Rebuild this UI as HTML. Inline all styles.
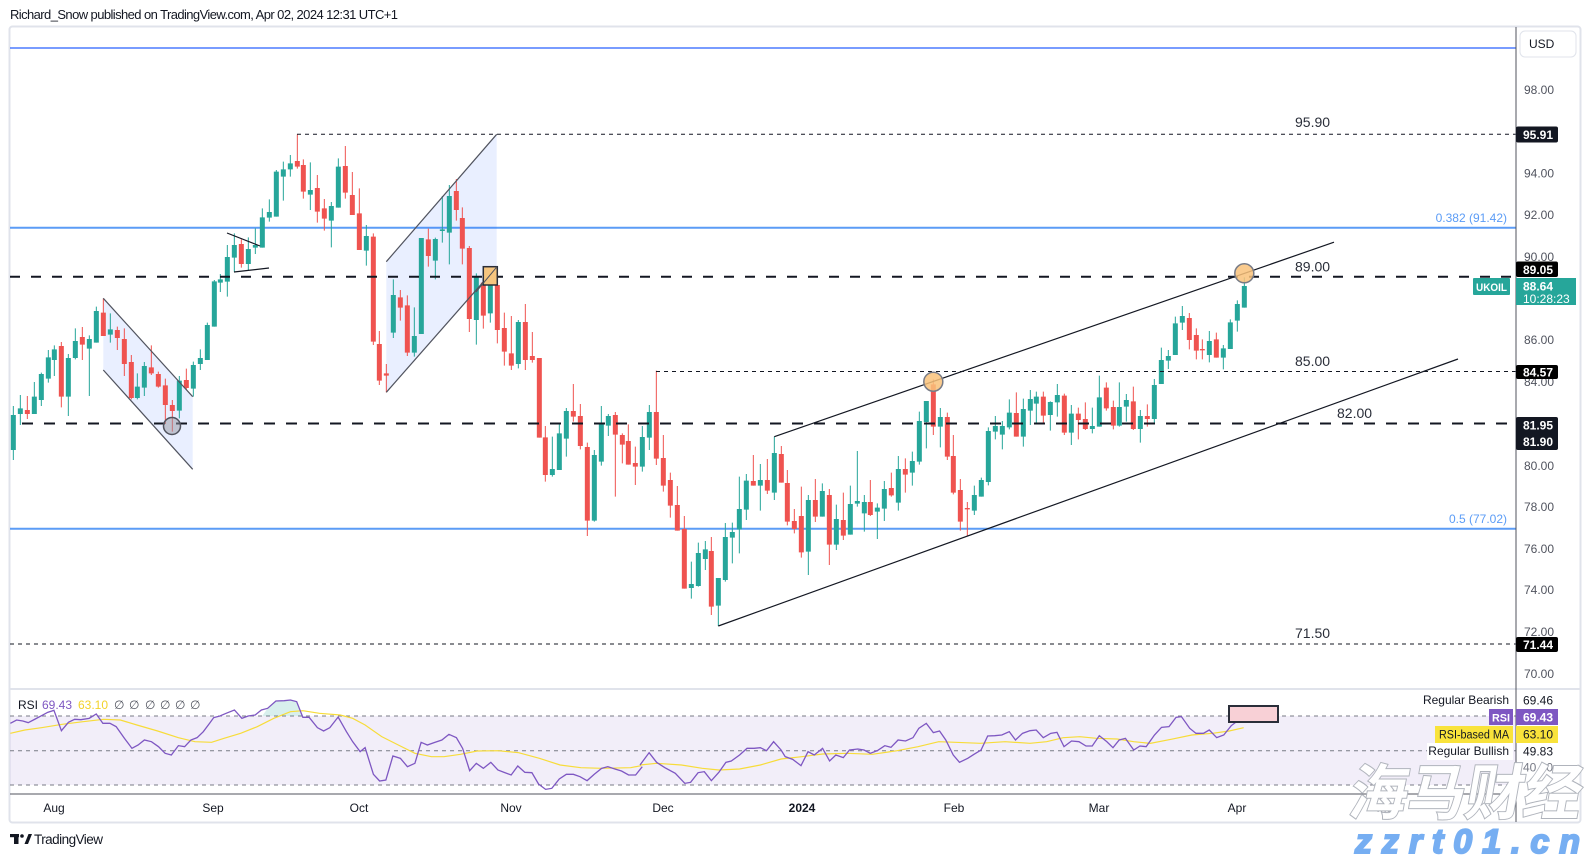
<!DOCTYPE html>
<html><head><meta charset="utf-8"><style>
html,body{margin:0;padding:0;background:#fff;}
svg{display:block;font-family:"Liberation Sans","Noto Sans CJK SC",sans-serif;}
</style></head><body>
<svg width="1590" height="857" viewBox="0 0 1590 857" xmlns="http://www.w3.org/2000/svg">
<rect width="1590" height="857" fill="#fff"/>
<text x="10" y="19" font-size="13" fill="#131722" textLength="388">Richard_Snow published on TradingView.com, Apr 02, 2024 12:31 UTC+1</text>
<rect x="9.5" y="26.5" width="1571" height="796" fill="#fff" stroke="#e0e3eb" stroke-width="2" rx="3"/>

<!-- RSI background -->
<rect x="10" y="716" width="1506" height="69" fill="#7e57c2" fill-opacity="0.1"/>

<!-- fib lines -->
<line x1="10" y1="48" x2="1516" y2="48" stroke="#2962ff" stroke-width="1.2"/>
<line x1="10" y1="227.7" x2="1516" y2="227.7" stroke="#5b9cf6" stroke-width="2"/>
<line x1="10" y1="528.7" x2="1516" y2="528.7" stroke="#5b9cf6" stroke-width="2"/>
<text x="1507" y="222" font-size="12" fill="#5b9cf6" text-anchor="end">0.382 (91.42)</text>
<text x="1507" y="523" font-size="12" fill="#5b9cf6" text-anchor="end">0.5 (77.02)</text>

<!-- channel fills -->
<polygon points="103.3,298.3 192.7,396.7 192.7,469.3 103.3,370" fill="#2962ff" fill-opacity="0.1"/>
<polygon points="386.3,261.7 496.7,134.3 496.7,266.7 386.3,392.3" fill="#2962ff" fill-opacity="0.1"/>

<!-- candles -->
<g transform="translate(0,120) scale(0.333333)">
<path d="M40 858V1020M61 825V915M103 786V882M124 758V858M145 690V788M163 676V768M205 702V888M226 625V718M268 646V828M289 560V668M331 580V668M412 760V838M433 726V828M538 768V895M580 725V830M601 688V750M622 608V720M643 480V620M661 462V516M682 375V530M703 340V455M745 352V450M766 325V402M787 265V383M808 238V305M829 150V290M850 125V242M871 105V170M931 127V270M994 246V382" stroke="#26a69a" stroke-width="3" fill="none"/>
<path d="M32.5 885h15V990h-15zM53.5 865h15V882h-15zM95.5 830h15V882h-15zM116.5 762h15V840h-15zM137.5 712h15V776h-15zM155.5 688h15V720h-15zM197.5 714h15V830h-15zM218.5 663h15V714h-15zM260.5 657h15V686h-15zM281.5 573h15V668h-15zM323.5 628h15V644h-15zM404.5 800h15V834h-15zM425.5 738h15V803h-15zM530.5 782h15V872h-15zM572.5 735h15V806h-15zM593.5 714h15V732h-15zM614.5 615h15V720h-15zM635.5 484h15V620h-15zM653.5 478h15V488h-15zM674.5 411h15V485h-15zM695.5 375h15V413h-15zM737.5 387h15V432h-15zM758.5 375h15V383h-15zM779.5 292h15V383h-15zM800.5 276h15V293h-15zM821.5 155h15V290h-15zM842.5 148h15V170h-15zM863.5 130h15V148h-15zM923.5 210h15V224h-15zM986.5 258h15V302h-15z" fill="#26a69a"/>
<path d="M82 828V897M184 666V862M247 621V720M310 535V648M352 620V690M373 625V768M394 705V838M454 676V765M475 755V803M496 776V912M517 840V935M559 746V810M724 358V443M892 43V146M910 118V236M952 165V308M973 237V332" stroke="#ef5350" stroke-width="3" fill="none"/>
<path d="M74.5 870h15V882h-15zM176.5 678h15V830h-15zM239.5 651h15V674h-15zM302.5 578h15V648h-15zM344.5 630h15V654h-15zM365.5 657h15V732h-15zM386.5 726h15V834h-15zM446.5 742h15V760h-15zM467.5 762h15V800h-15zM488.5 796h15V855h-15zM509.5 855h15V873h-15zM551.5 780h15V804h-15zM716.5 372h15V432h-15zM884.5 123h15V140h-15zM902.5 135h15V215h-15zM944.5 204h15V275h-15zM965.5 265h15V296h-15z" fill="#ef5350"/>
</g>
<g transform="translate(330,120) scale(0.333333)">
<path d="M25 115V263M109 315V437M190 478V654M253 562V710M274 354V642M316 353V478M337 228V368M358 195V433M439 460V674M481 450V608M565 600V745M667 950V1070M688 912V1050M709 864V1010M793 990V1205M814 858V1037M835 882V948M937 918V1055M958 855V990" stroke="#26a69a" stroke-width="3" fill="none"/>
<path d="M17.5 140h15V263h-15zM101.5 348h15V392h-15zM182.5 525h15V638h-15zM245.5 648h15V698h-15zM266.5 354h15V642h-15zM308.5 357h15V422h-15zM329.5 328h15V333h-15zM350.5 228h15V338h-15zM431.5 472h15V600h-15zM473.5 490h15V580h-15zM557.5 606h15V732h-15zM659.5 1047h15V1065h-15zM680.5 940h15V1050h-15zM701.5 873h15V956h-15zM785.5 1005h15V1202h-15zM806.5 912h15V1025h-15zM827.5 888h15V917h-15zM929.5 951h15V1040h-15zM950.5 876h15V953h-15z" fill="#26a69a"/>
<path d="M46 78V236M67 156V285M88 205V390M130 340V675M148 633V795M169 732V817M211 510V602M232 526V708M295 326V440M379 177V302M397 262V433M418 378V636M460 458V626M502 495V670M523 578V737M544 588V750M586 552V750M607 636V728M628 714V953M646 918V1085M730 792V905M751 852V988M772 968V1248M856 876V1130M877 940V1030M895 913V1034M916 980V1095M979 752V1035" stroke="#ef5350" stroke-width="3" fill="none"/>
<path d="M38.5 138h15V218h-15zM59.5 225h15V285h-15zM80.5 280h15V390h-15zM122.5 350h15V665h-15zM140.5 672h15V782h-15zM161.5 760h15V767h-15zM203.5 532h15V563h-15zM224.5 556h15V698h-15zM287.5 358h15V408h-15zM371.5 213h15V270h-15zM389.5 294h15V386h-15zM410.5 384h15V597h-15zM452.5 488h15V587h-15zM494.5 495h15V630h-15zM515.5 624h15V695h-15zM536.5 700h15V737h-15zM578.5 606h15V720h-15zM599.5 708h15V720h-15zM620.5 714h15V953h-15zM638.5 952h15V1065h-15zM722.5 873h15V890h-15zM743.5 888h15V978h-15zM764.5 981h15V1202h-15zM848.5 885h15V944h-15zM869.5 945h15V974h-15zM887.5 963h15V1034h-15zM908.5 1029h15V1040h-15zM971.5 876h15V1016h-15z" fill="#ef5350"/>
</g>
<g transform="translate(660,340) scale(0.333333)">
<path d="M94 665V776M115 608V740M136 603V690M175 714V858M196 549V725M217 548V670M238 410V640M259 402V540M301 372V512M343 290V480M445 465V705M487 430V530M529 494V630M571 437V584M592 333V500M613 465V575M652 490V597M673 423V543M715 348V512M757 335V437M778 215V374M799 183V325M841 204V322M943 437V525M964 413V470M985 262V436" stroke="#26a69a" stroke-width="3" fill="none"/>
<path d="M86.5 732h15V744h-15zM107.5 639h15V738h-15zM128.5 628h15V657h-15zM167.5 714h15V797h-15zM188.5 591h15V720h-15zM209.5 576h15V593h-15zM230.5 507h15V568h-15zM251.5 422h15V509h-15zM293.5 420h15V437h-15zM335.5 339h15V458h-15zM437.5 480h15V635h-15zM479.5 453h15V530h-15zM521.5 537h15V614h-15zM563.5 492h15V584h-15zM584.5 483h15V491h-15zM605.5 486h15V520h-15zM644.5 503h15V515h-15zM665.5 447h15V506h-15zM707.5 387h15V488h-15zM749.5 363h15V398h-15zM770.5 243h15V365h-15zM791.5 183h15V246h-15zM833.5 231h15V260h-15zM935.5 465h15V512h-15zM956.5 420h15V470h-15zM977.5 273h15V426h-15z" fill="#26a69a"/>
<path d="M10 285V455M31 398V533M52 438V572M73 528V746M154 591V825M280 345V437M322 357V462M364 318V428M382 390V556M403 507V580M424 440V653M466 417V546M508 447V675M550 458V600M631 420V528M694 398V470M736 355V458M820 118V285M862 218V360M880 285V463M901 417V572M922 486V588" stroke="#ef5350" stroke-width="3" fill="none"/>
<path d="M2.5 354h15V437h-15zM23.5 420h15V497h-15zM44.5 495h15V572h-15zM65.5 567h15V746h-15zM146.5 633h15V800h-15zM272.5 423h15V437h-15zM314.5 420h15V452h-15zM356.5 342h15V428h-15zM374.5 429h15V545h-15zM395.5 543h15V567h-15zM416.5 528h15V637h-15zM458.5 480h15V530h-15zM500.5 465h15V614h-15zM542.5 540h15V587h-15zM623.5 486h15V525h-15zM686.5 444h15V466h-15zM728.5 387h15V404h-15zM812.5 133h15V260h-15zM854.5 231h15V350h-15zM872.5 348h15V458h-15zM893.5 450h15V545h-15zM914.5 504h15V508h-15z" fill="#ef5350"/>
</g>
<g transform="translate(990,230) scale(0.333333)">
<path d="M16 558V628M37 573V658M58 508V598M100 506V650M121 480V585M139 485V578M181 514V602M202 462V560M244 525V645M307 533V610M328 437V590M388 457V590M409 492V575M451 540V638M493 447V580M514 353V462M535 360V417M556 260V375M577 228V300M658 303V397M700 345V418M721 268V357M742 211V305M763 142V233" stroke="#26a69a" stroke-width="3" fill="none"/>
<path d="M8.5 588h15V605h-15zM29.5 588h15V614h-15zM50.5 548h15V592h-15zM92.5 537h15V620h-15zM113.5 507h15V542h-15zM131.5 500h15V521h-15zM173.5 516h15V555h-15zM194.5 495h15V517h-15zM236.5 551h15V608h-15zM299.5 588h15V597h-15zM320.5 502h15V590h-15zM380.5 531h15V587h-15zM401.5 510h15V530h-15zM443.5 558h15V597h-15zM485.5 465h15V567h-15zM506.5 390h15V462h-15zM527.5 378h15V392h-15zM548.5 280h15V375h-15zM569.5 258h15V278h-15zM650.5 333h15V375h-15zM692.5 355h15V383h-15zM713.5 277h15V357h-15zM734.5 222h15V272h-15zM755.5 168h15V233h-15z" fill="#26a69a"/>
<path d="M79 487V620M160 485V580M223 491V615M265 533V628M286 517V600M349 457V542M370 512V598M430 470V600M472 523V590M598 249V358M619 295V388M637 328V388M679 308V383" stroke="#ef5350" stroke-width="3" fill="none"/>
<path d="M71.5 549h15V620h-15zM152.5 500h15V557h-15zM215.5 497h15V608h-15zM257.5 551h15V570h-15zM278.5 567h15V597h-15zM341.5 473h15V535h-15zM362.5 531h15V587h-15zM422.5 514h15V597h-15zM464.5 558h15V567h-15zM590.5 264h15V330h-15zM611.5 315h15V362h-15zM629.5 357h15V361h-15zM671.5 328h15V383h-15z" fill="#ef5350"/>
</g>

<!-- horizontal levels -->
<line x1="297" y1="134.3" x2="1516" y2="134.3" stroke="#131722" stroke-width="1" stroke-dasharray="4 4"/>
<line x1="10" y1="276.7" x2="1516" y2="276.7" stroke="#131722" stroke-width="2" stroke-dasharray="10 11"/>
<line x1="656" y1="371.5" x2="1516" y2="371.5" stroke="#131722" stroke-width="1" stroke-dasharray="4 4"/>
<line x1="22" y1="423.5" x2="1516" y2="423.5" stroke="#131722" stroke-width="2" stroke-dasharray="11 11"/>
<line x1="10" y1="644" x2="1516" y2="644" stroke="#131722" stroke-width="1" stroke-dasharray="4 4"/>
<text x="1295" y="127" font-size="14" fill="#2a2e39">95.90</text>
<text x="1295" y="271.5" font-size="14" fill="#2a2e39">89.00</text>
<text x="1295" y="366" font-size="14" fill="#2a2e39">85.00</text>
<text x="1337" y="418" font-size="14" fill="#2a2e39">82.00</text>
<text x="1295" y="638" font-size="14" fill="#2a2e39">71.50</text>

<!-- channel lines -->
<g stroke="#50535e" stroke-width="1.2" fill="none">
<line x1="103.3" y1="298.3" x2="192.7" y2="396.7"/>
<line x1="103.3" y1="370" x2="192.7" y2="469.3"/>
<line x1="386.3" y1="261.7" x2="496.7" y2="134.3"/>
<line x1="386.3" y1="392.3" x2="496.7" y2="266.7"/>
</g>
<g stroke="#131722" stroke-width="1.2" fill="none">
<line x1="227" y1="233" x2="260" y2="246"/>
<line x1="234" y1="272" x2="269" y2="268"/>
<line x1="774.3" y1="436.7" x2="1334" y2="242.2"/>
<line x1="718.3" y1="626" x2="1458" y2="359"/>
</g>
<rect x="483.3" y="266.7" width="14" height="18.3" fill="#f6c57f" stroke="#2a2e39" stroke-width="1.5"/>
<line x1="476" y1="292" x2="497" y2="266.7" stroke="#50535e" stroke-width="1"/>
<circle cx="172" cy="426" r="8.5" fill="#9598a1" fill-opacity="0.5" stroke="#50535e" stroke-width="1.5"/>
<circle cx="933.3" cy="381.7" r="9.5" fill="#f9c27a" fill-opacity="0.85" stroke="#787b86" stroke-width="1.5"/>
<circle cx="1244.3" cy="273.3" r="9.5" fill="#f9c27a" fill-opacity="0.85" stroke="#787b86" stroke-width="1.5"/>

<!-- RSI pane -->
<line x1="10" y1="689" x2="1580" y2="689" stroke="#e0e3eb" stroke-width="2"/>
<g stroke="#787b86" stroke-width="1" stroke-dasharray="4 4">
<line x1="10" y1="716" x2="1516" y2="716"/>
<line x1="10" y1="750.7" x2="1516" y2="750.7"/>
<line x1="10" y1="785" x2="1516" y2="785"/>
</g>
<g transform="translate(0,685) scale(0.4149,0.333333)">
<polygon points="632,93 645,70 665,48 685,47 700,45 715,50 727,93" fill="#26a69a" fill-opacity="0.18"/>
</g>
<g transform="translate(0,685) scale(0.4149,0.333333)" fill="none">
<polyline points="25,145 60,135 100,128 150,118 200,110 250,103 290,105 330,120 380,138 430,158 470,170 510,172 540,160 580,145 620,125 660,100 700,80 730,77 770,85 820,90 850,100 880,120 920,155 960,180 1000,205 1040,215 1070,215 1110,208 1150,198 1200,197 1250,203 1300,220 1350,240 1400,248 1450,250 1520,248 1545,242" stroke="#f7dc3a" stroke-width="1.2" vector-effect="non-scaling-stroke"/>
<polyline points="25,115 40,105 55,108 68,113 85,102 100,92 115,82 130,76 148,137 165,112 180,103 195,104 215,100 232,87 248,115 265,115 280,125 300,160 318,190 333,180 348,165 365,170 382,185 398,205 413,210 430,182 445,185 460,165 475,158 490,140 505,115 515,98 530,93 545,85 565,75 583,100 598,93 615,90 630,75 645,70 665,48 685,47 700,45 715,50 730,97 745,97 765,128 780,138 795,128 815,96 835,140 850,170 868,200 880,188 900,268 915,288 930,285 947,213 965,220 982,245 1000,235 1015,172 1030,180 1048,172 1065,165 1082,148 1100,158 1115,190 1132,257 1148,235 1165,250 1183,232 1200,255 1215,262 1232,270 1248,243 1265,262 1282,263 1298,297 1315,313 1330,310 1348,282 1365,268 1382,268 1398,275 1415,287 1432,268 1450,250 1465,245 1482,252 1498,258 1515,270 1532,270 1548,245" stroke="#7e57c2" stroke-width="1.3" vector-effect="non-scaling-stroke"/>
</g>
<g transform="translate(640,685) scale(0.4149,0.333333)" fill="none">
<polyline points="0,240 40,235 100,240 150,250 190,255 240,252 290,240 340,222 390,215 440,207 500,205 560,208 620,197 670,185 720,170 760,172 820,175 880,170 940,175 980,170 1020,158 1060,155 1100,160 1150,162 1190,170 1230,175 1280,163 1330,150 1380,145 1420,138 1455,128" stroke="#f7dc3a" stroke-width="1.2" vector-effect="non-scaling-stroke"/>
<polyline points="0,240 22,203 40,232 60,248 85,265 108,295 122,292 140,263 155,260 172,287 190,262 207,232 220,228 240,210 258,190 275,190 290,188 305,197 322,170 340,195 350,215 368,223 388,242 405,200 420,210 440,190 457,228 472,210 490,218 505,195 525,192 540,195 555,205 572,197 590,182 605,187 622,165 640,168 658,158 672,130 690,115 707,143 722,138 737,165 755,210 770,232 790,220 805,208 822,195 838,153 855,152 872,150 890,140 905,165 922,145 940,137 955,135 972,158 990,145 1005,142 1022,185 1040,168 1058,170 1075,183 1090,183 1107,152 1125,170 1140,188 1155,165 1170,160 1190,195 1205,183 1220,185 1240,150 1257,127 1275,125 1292,97 1305,95 1325,130 1340,145 1358,145 1372,135 1390,158 1407,150 1425,122 1440,108 1460,95" stroke="#7e57c2" stroke-width="1.3" vector-effect="non-scaling-stroke"/>
</g>
<rect x="1229" y="706" width="49" height="16" fill="#f8d0d6" stroke="#2a2e39" stroke-width="2"/>
<text x="18" y="709" font-size="12" fill="#131722">RSI</text>
<text x="42" y="709" font-size="12" fill="#7e57c2">69.43</text>
<text x="78" y="709" font-size="12" fill="#f2d22a">63.10</text>
<g font-size="12" fill="#50535e" font-family="'DejaVu Sans',sans-serif">
<text x="114" y="709">∅</text><text x="129" y="709">∅</text><text x="145" y="709">∅</text><text x="160" y="709">∅</text><text x="175" y="709">∅</text><text x="190" y="709">∅</text>
</g>

<!-- axes -->
<line x1="1516" y1="27" x2="1516" y2="822" stroke="#50535e" stroke-width="1"/>
<line x1="10" y1="794" x2="1516" y2="794" stroke="#50535e" stroke-width="1"/>
<rect x="1520" y="31" width="56" height="26" rx="5" fill="#fff" stroke="#e0e3eb"/>
<text x="1529" y="48" font-size="12" fill="#131722">USD</text>
<g font-size="12" fill="#50535e">
<text x="1524" y="94">98.00</text>
<text x="1524" y="177.5">94.00</text>
<text x="1524" y="219">92.00</text>
<text x="1524" y="261">90.00</text>
<text x="1524" y="344">86.00</text>
<text x="1524" y="386">84.00</text>
<text x="1524" y="470">80.00</text>
<text x="1524" y="511">78.00</text>
<text x="1524" y="553">76.00</text>
<text x="1524" y="594">74.00</text>
<text x="1524" y="636">72.00</text>
<text x="1524" y="678">70.00</text>
</g>
<g font-size="12" font-weight="bold" fill="#fff">
<rect x="1516" y="126.5" width="42" height="16" rx="2" fill="#131722"/><text x="1523" y="139">95.91</text>
<rect x="1516" y="261.5" width="42" height="15.5" rx="2" fill="#000"/><text x="1523" y="274">89.05</text>
<rect x="1473" y="278" width="37" height="17" rx="1" fill="#26a69a"/><text x="1476" y="291" font-size="11" textLength="31" lengthAdjust="spacingAndGlyphs">UKOIL</text>
<rect x="1516" y="278" width="60" height="27" fill="#26a69a"/><text x="1523" y="290.5">88.64</text>
<text x="1523" y="303" font-weight="normal">10:28:23</text>
<rect x="1516" y="365" width="42" height="14" rx="2" fill="#000"/><text x="1523" y="376.5">84.57</text>
<rect x="1516" y="417" width="42" height="33" rx="2" fill="#131722"/><text x="1523" y="429.5">81.95</text><text x="1523" y="446">81.90</text>
<rect x="1516" y="637" width="42" height="15" rx="2" fill="#000"/><text x="1523" y="649">71.44</text>
</g>
<text x="1509" y="704" font-size="12" fill="#131722" text-anchor="end">Regular Bearish</text>
<text x="1523" y="704.5" font-size="12" fill="#131722">69.46</text>
<rect x="1489" y="709" width="24" height="16" fill="#7e57c2"/><text x="1492" y="721.5" font-size="11" font-weight="bold" fill="#fff" textLength="18" lengthAdjust="spacingAndGlyphs">RSI</text>
<rect x="1516" y="709" width="42" height="16" fill="#7e57c2"/><text x="1523" y="721.5" font-size="12" font-weight="bold" fill="#fff">69.43</text>
<rect x="1435" y="726" width="78" height="17" fill="#f9e33b"/><text x="1439" y="738.5" font-size="11.5" fill="#131722" textLength="70" lengthAdjust="spacingAndGlyphs">RSI-based MA</text>
<rect x="1516" y="726" width="42" height="17" fill="#f9e33b"/><text x="1523" y="738.5" font-size="12" fill="#131722">63.10</text>
<rect x="1427" y="743" width="86" height="17" fill="#fff"/>
<text x="1509" y="755" font-size="12" fill="#131722" text-anchor="end">Regular Bullish</text>
<text x="1523" y="755.5" font-size="12" fill="#131722">49.83</text>
<text x="1523" y="771.5" font-size="12" fill="#787b86">40.00</text>

<g font-size="12" fill="#131722" text-anchor="middle">
<text x="54" y="812">Aug</text>
<text x="213" y="812">Sep</text>
<text x="359" y="812">Oct</text>
<text x="511" y="812">Nov</text>
<text x="663" y="812">Dec</text>
<text x="802" y="812" font-weight="bold">2024</text>
<text x="954" y="812">Feb</text>
<text x="1099" y="812">Mar</text>
<text x="1237" y="812">Apr</text>
<text x="1388" y="812" fill="#9598a1">May</text>
</g>

<!-- footer logo -->
<g fill="#131722">
<rect x="10" y="834" width="9" height="3.2"/>
<rect x="14" y="834" width="4.5" height="10"/>
<circle cx="22" cy="836" r="1.8"/>
<polygon points="24.5,844 28.5,834 32,834 28,844"/>
</g>
<text x="34" y="844" font-size="13.5" fill="#131722" textLength="69">TradingView</text>

<!-- watermark -->
<text x="1347" y="814" font-size="60" font-weight="bold" fill="#fff" stroke="#b0b4bc" stroke-width="2" paint-order="stroke" font-family="'Noto Sans CJK SC','WenQuanYi Zen Hei',sans-serif" transform="translate(143.5,0) skewX(-10)" textLength="232" lengthAdjust="spacingAndGlyphs">海马财经</text>
<text x="1355" y="853" font-size="34" font-weight="bold" font-style="italic" fill="#76aef2" stroke="#76aef2" stroke-width="2" textLength="225" lengthAdjust="spacing" font-family="'Liberation Sans',sans-serif">zzrt01.cn</text>
</svg>
</body></html>
